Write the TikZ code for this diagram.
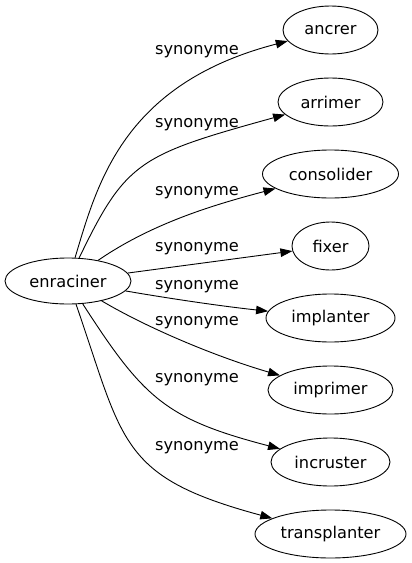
\documentclass[tikz,border=0pt]{standalone}
\usepackage{fontspec}
\setmainfont{DejaVu Sans}
\usetikzlibrary{shapes.geometric,arrows.meta}

\begin{document}
\begin{tikzpicture}[x=1pt,y=1pt,word/.style = {draw, ellipse, inner sep=0pt, minimum height=48pt, line width=0.9pt},syn/.style = {-{Triangle[length=12pt,width=8.5pt]}, line width=0.9pt},lbl/.style = {inner sep=0pt},node distance={72pt},font=\fontsize{16.2}{19}\selectfont]
        \useasboundingbox (0,0) rectangle (412,-563);
        \node[word, minimum width=126pt, minimum height=46pt] (1) at (68,-281) {enraciner};
        \node[word, minimum width=95pt] (2) at (330.5,-30) {ancrer};
        \node[word, minimum width=105pt] (3) [below of=2] {arrimer};
        \node[word, minimum width=136pt] (4) [below of=3] {consolider};
        \node[word, minimum width=77pt] (5) [below of=4] {fixer};
        \node[word, minimum width=129pt] (6) [below of=5] {implanter};
        \node[word, minimum width=125pt] (7) [below of=6] {imprimer};
        \node[word, minimum width=119pt] (8) [below of=7] {incruster};
        \node[word, minimum width=151pt] (9) [below of=8] {transplanter};
        \node[lbl] (s2) at (197,-52) {synonyme};
        \node[lbl] (s3) at (197,-125) {synonyme};
        \node[lbl] (s4) at (197,-193) {synonyme};
        \node[lbl] (s5) at (197,-249) {synonyme};
        \node[lbl] (s6) at (197,-287) {synonyme};
        \node[lbl] (s7) at (197,-323) {synonyme};
        \node[lbl] (s8) at (197,-380) {synonyme};
        \node[lbl] (s9) at (197,-448) {synonyme};
        \draw[syn] (1) .. controls (97,-185) and (122,-84) .. (2);
        \draw[syn] (1) .. controls (126,-161) and (139,-155) .. (3);
        \draw[syn] (1) .. controls (154,-222) and (217,-204) .. (4);
        \draw[syn] (1) -- (5);
        \draw[syn] (1) .. controls (170,-298.6) and (220,-306) .. (6);
        \draw[syn] (1) .. controls (151,-330) and (220,-358) .. (7);
        \draw[syn] (1) .. controls (144,-399) and (166,-419) .. (8);
        \draw[syn] (1) .. controls (124,-443) and (119,-477) .. (9);
        \end{tikzpicture}
\end{document}
